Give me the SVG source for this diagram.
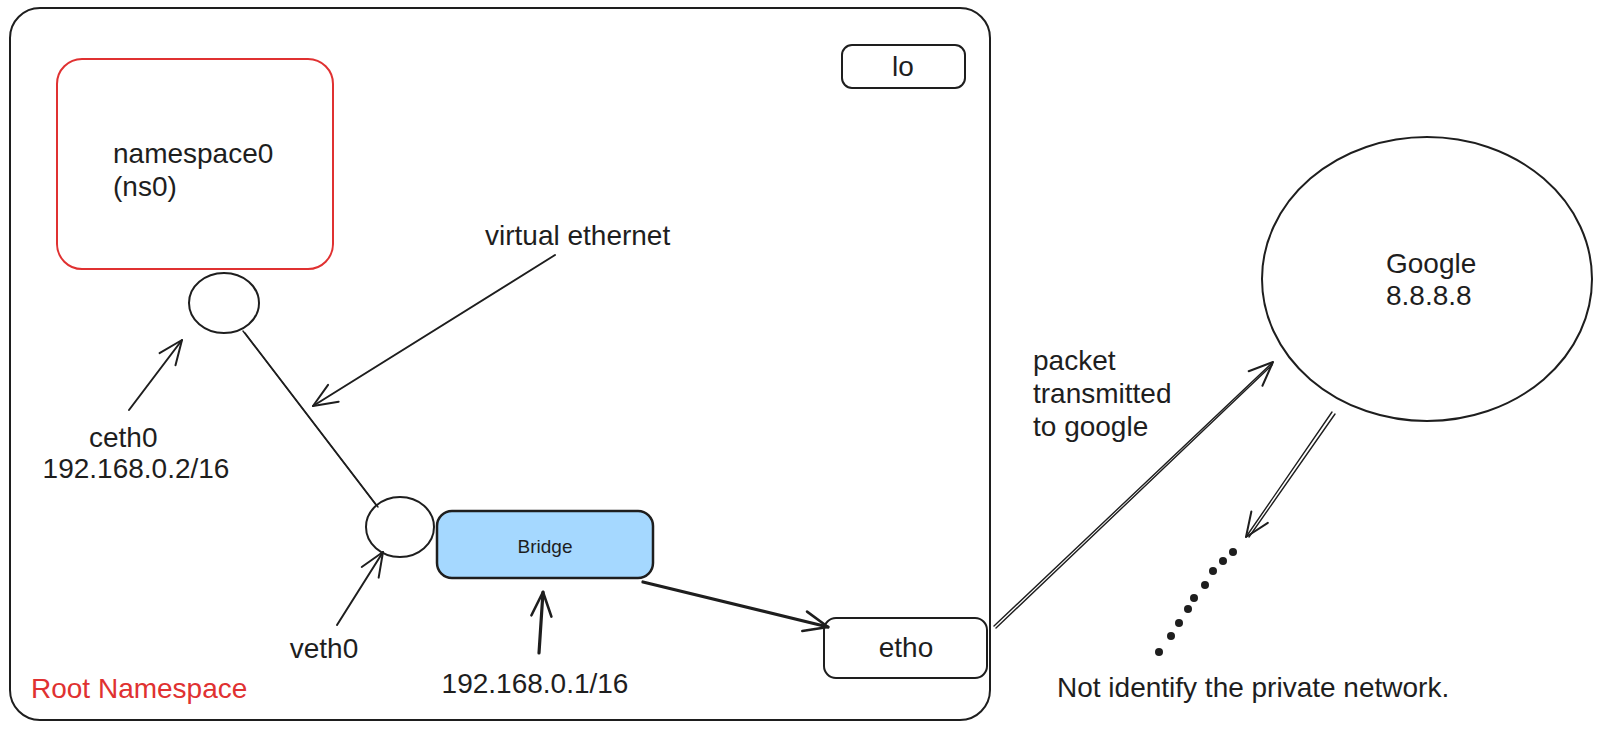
<svg xmlns="http://www.w3.org/2000/svg" width="1603" height="730" viewBox="0 0 1603 730">
<style>
  .t { font-family: "Liberation Sans", Arial, sans-serif; font-size: 28px; fill: #1e1e1e; }
  .red { fill: #e03131; }
  .box { fill: none; stroke: #1e1e1e; stroke-width: 2; }
  .ln { fill: none; stroke: #1e1e1e; stroke-width: 2; stroke-linecap: round; }
  .thin { fill: none; stroke: #1e1e1e; stroke-width: 1.4; stroke-linecap: round; }
  .thick { fill: none; stroke: #1e1e1e; stroke-width: 3.2; stroke-linecap: round; }
</style>
<defs>
  <marker id="arr" viewBox="-30 -15 35 30" refX="0" refY="0" markerWidth="35" markerHeight="30" markerUnits="userSpaceOnUse" orient="auto" overflow="visible">
    <path d="M-24,-10 L0,0 L-24,10" fill="none" stroke="#1e1e1e" stroke-width="2" stroke-linecap="round" stroke-linejoin="round"/>
  </marker>
  <marker id="arrT" viewBox="-30 -15 35 30" refX="0" refY="0" markerWidth="35" markerHeight="30" markerUnits="userSpaceOnUse" orient="auto" overflow="visible">
    <path d="M-24,-10 L0,0 L-24,10" fill="none" stroke="#1e1e1e" stroke-width="2.6" stroke-linecap="round" stroke-linejoin="round"/>
  </marker>
</defs>
<rect width="1603" height="730" fill="#ffffff"/>

<g id="root-namespace">
  <rect class="box" x="10" y="8" width="980" height="712" rx="30" ry="30"/>
  <text class="t red" x="31" y="698">Root Namespace</text>
</g>

<g id="ns0">
  <rect x="57" y="59" width="276" height="210" rx="25" ry="25" fill="none" stroke="#e03131" stroke-width="2"/>
  <text class="t" x="113" y="163">namespace0</text>
  <text class="t" x="113" y="196">(ns0)</text>
</g>

<g id="lo">
  <rect class="box" x="842" y="45" width="123" height="43" rx="10" ry="10"/>
  <text class="t" x="903" y="76" text-anchor="middle">lo</text>
</g>

<g id="ceth0">
  <ellipse class="box" cx="224" cy="303" rx="35" ry="30"/>
  <text class="t" x="89" y="447">ceth0</text>
  <text class="t" x="136" y="478" text-anchor="middle">192.168.0.2/16</text>
</g>

<g id="veth0">
  <ellipse class="box" cx="400" cy="527" rx="34" ry="30"/>
  <text class="t" x="324" y="658" text-anchor="middle">veth0</text>
</g>

<g id="bridge">
  <rect x="437" y="511" width="216" height="67" rx="15" ry="15" fill="#a5d8ff" stroke="#1e1e1e" stroke-width="2.5"/>
  <text class="t" x="545" y="553" text-anchor="middle" style="font-size:19px">Bridge</text>
  <text class="t" x="535" y="693" text-anchor="middle">192.168.0.1/16</text>
</g>

<g id="etho">
  <rect class="box" x="824" y="618" width="163" height="60" rx="12" ry="12"/>
  <text class="t" x="906" y="657" text-anchor="middle">etho</text>
</g>

<g id="google">
  <ellipse class="box" cx="1427" cy="279" rx="165" ry="142"/>
  <text class="t" x="1386" y="273">Google</text>
  <text class="t" x="1386" y="305">8.8.8.8</text>
</g>

<g id="labels">
  <text class="t" x="485" y="245">virtual ethernet</text>
  <text class="t" x="1033" y="370">packet</text>
  <text class="t" x="1033" y="403">transmitted</text>
  <text class="t" x="1033" y="436">to google</text>
  <text class="t" x="1057" y="697">Not identify the private network.</text>
</g>

<g id="connectors">
  <line class="ln" x1="129" y1="410" x2="182" y2="340" marker-end="url(#arr)"/>
  <line class="thin" x1="245" y1="333" x2="378" y2="507"/>
  <line class="thin" x1="243" y1="331" x2="376" y2="505" stroke-width="1.8"/>
  <line class="ln" x1="555" y1="255" x2="313" y2="406" marker-end="url(#arr)"/>
  <line class="ln" x1="337" y1="625" x2="383" y2="552" marker-end="url(#arr)"/>
  <line class="thick" x1="539" y1="653" x2="543" y2="592" marker-end="url(#arrT)"/>
  <line class="thick" x1="643" y1="582" x2="828" y2="627" marker-end="url(#arrT)"/>
  <line class="thin" x1="994" y1="626" x2="1273" y2="362" marker-end="url(#arr)"/>
  <line class="thin" x1="996" y1="628" x2="1272" y2="365"/>
  <line class="thin" x1="1332" y1="412" x2="1246" y2="537" marker-end="url(#arr)"/>
  <line class="thin" x1="1335" y1="414" x2="1249" y2="537"/>
  <g fill="#1e1e1e">
    <circle cx="1233" cy="552" r="4"/>
    <circle cx="1223" cy="561" r="4"/>
    <circle cx="1213" cy="571" r="4"/>
    <circle cx="1205" cy="585" r="4"/>
    <circle cx="1194" cy="598" r="4"/>
    <circle cx="1188" cy="609" r="4"/>
    <circle cx="1179" cy="623" r="4"/>
    <circle cx="1171" cy="636" r="4"/>
    <circle cx="1159" cy="652" r="4"/>
  </g>
</g>
</svg>
